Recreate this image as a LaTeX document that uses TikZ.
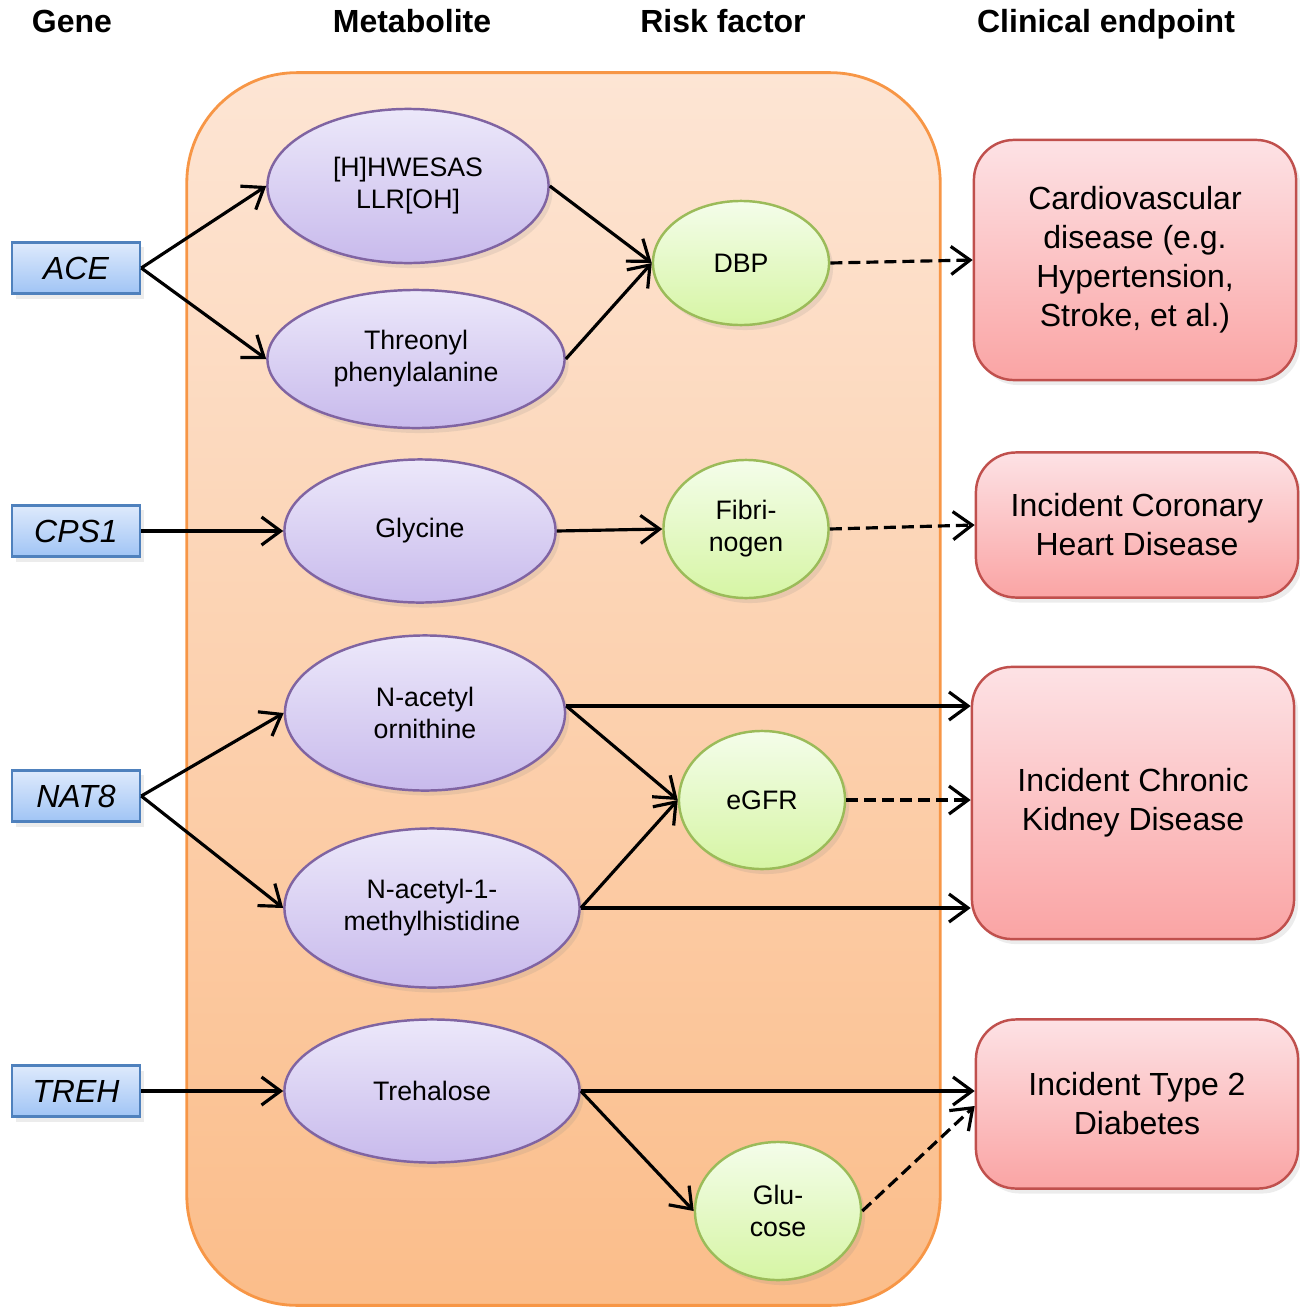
\documentclass[tikz,border=0pt]{standalone}
\usepackage{fontspec}
\setmainfont{Liberation Sans}
\usetikzlibrary{shapes.geometric,arrows.meta,positioning,calc,shadows}

\definecolor{paneltop}{RGB}{253,229,212}
\definecolor{panelbot}{RGB}{251,189,138}
\definecolor{panelline}{RGB}{247,150,70}
\definecolor{genetop}{RGB}{222,234,252}
\definecolor{genebot}{RGB}{160,196,245}
\definecolor{geneline}{RGB}{79,129,189}
\definecolor{metabtop}{RGB}{236,232,250}
\definecolor{metabbot}{RGB}{200,186,236}
\definecolor{metabline}{RGB}{128,100,162}
\definecolor{risktop}{RGB}{244,253,234}
\definecolor{riskbot}{RGB}{214,245,164}
\definecolor{riskline}{RGB}{155,187,89}
\definecolor{endtop}{RGB}{253,226,229}
\definecolor{endbot}{RGB}{250,164,164}
\definecolor{endline}{RGB}{192,80,77}

\begin{document}
\begin{tikzpicture}[
    x=0.01cm, y=-0.01cm,
    % Define styles for different types of blocks
    shade/.style={
        drop shadow={shadow xshift=0.4mm, shadow yshift=-0.5mm, opacity=0.15}
    },
    panel/.style={
        rectangle,
        rounded corners=1.1cm,
        draw=panelline,
        line width=0.8pt,
        top color=paneltop,
        bottom color=panelbot,
        minimum width=7.53cm,
        minimum height=12.32cm
    },
    gene/.style={
        rectangle,
        draw=geneline,
        line width=0.7pt,
        top color=genetop,
        bottom color=genebot,
        shade,
        minimum width=1.28cm,
        minimum height=0.51cm,
        font=\fontsize{9.1}{11}\selectfont\itshape
    },
    metab/.style={
        ellipse,
        draw=metabline,
        line width=0.7pt,
        top color=metabtop,
        bottom color=metabbot,
        shade,
        inner sep=0pt,
        align=center,
        font=\fontsize{7.6}{9.1}\selectfont
    },
    risk/.style={
        ellipse,
        draw=riskline,
        line width=0.7pt,
        top color=risktop,
        bottom color=riskbot,
        shade,
        inner sep=0pt,
        align=center,
        font=\fontsize{7.6}{9.1}\selectfont
    },
    endpoint/.style={
        rectangle,
        rounded corners=0.4cm,
        draw=endline,
        line width=0.7pt,
        top color=endtop,
        bottom color=endbot,
        shade,
        minimum width=3.22cm,
        align=center,
        font=\fontsize{9.1}{11.1}\selectfont
    },
    header/.style={
        anchor=base,
        font=\fontsize{9.1}{11}\selectfont\bfseries
    },
    line/.style={
        draw,
        line width=0.9pt,
        -{Straight Barb[length=1.9mm,width=2.8mm,line width=0.9pt]}
    },
    dline/.style={
        line,
        dash pattern=on 1.2mm off 0.6mm
    }
]
\useasboundingbox (0,0) rectangle (1299,1309);

% Column headers
\node[header] (hgene) at (72,32) {Gene};
\node[header] (hmetab) at (412,32) {Metabolite};
\node[header] (hrisk) at (723,32) {Risk factor};
\node[header] (hend) at (1106,32) {Clinical endpoint};

% Background panel
\node[panel] (panel) at (563.5,689) {};

% Genes
\node[gene] (ace) at (76,268) {ACE};
\node[gene] (cps) at (76,531) {CPS1};
\node[gene] (nat) at (76,796) {NAT8};
\node[gene] (treh) at (76,1091) {TREH};

% Metabolites
\node[metab, minimum width=2.81cm, minimum height=1.54cm] (hw) at (408,186) {[H]HWESAS\\LLR[OH]};
\node[metab, minimum width=2.97cm, minimum height=1.38cm] (thr) at (416,359) {Threonyl\\phenylalanine};
\node[metab, minimum width=2.71cm, minimum height=1.43cm] (gly) at (420,531) {Glycine};
\node[metab, minimum width=2.80cm, minimum height=1.55cm] (orn) at (425,713) {N-acetyl\\ornithine};
\node[metab, minimum width=2.95cm, minimum height=1.59cm] (mhis) at (432,908) {N-acetyl-1-\\methylhistidine};
\node[metab, minimum width=2.95cm, minimum height=1.43cm] (tre) at (432,1091) {Trehalose};

% Risk factors
\node[risk, minimum width=1.76cm, minimum height=1.24cm] (dbp) at (741,263) {DBP};
\node[risk, minimum width=1.65cm, minimum height=1.38cm] (fib) at (746,529) {Fibri-\\nogen};
\node[risk, minimum width=1.66cm, minimum height=1.38cm] (egfr) at (762,800) {eGFR};
\node[risk, minimum width=1.66cm, minimum height=1.38cm] (glu) at (778,1211) {Glu-\\cose};

% Clinical endpoints
\node[endpoint, minimum height=2.40cm] (cvd) at (1135,260) {Cardiovascular\\disease (e.g.\\Hypertension,\\Stroke, et al.)};
\node[endpoint, minimum height=1.45cm] (chd) at (1137,525) {Incident Coronary\\Heart Disease};
\node[endpoint, minimum height=2.72cm] (ckd) at (1133,803) {Incident Chronic\\Kidney Disease};
\node[endpoint, minimum height=1.69cm] (t2d) at (1137,1104) {Incident Type 2\\Diabetes};

% Draw the connections
% ACE
\draw[line] (ace.east) -- (hw.west);
\draw[line] (ace.east) -- (thr.west);
\draw[line] (hw.east) -- (dbp.west);
\draw[line] (thr.east) -- (dbp.west);
\draw[dline] (dbp.east) -- (cvd.west);

% CPS1
\draw[line] (cps.east) -- (gly.west);
\draw[line] (gly.east) -- (fib.west);
\draw[dline] (fib.east) -- (chd.west);

% NAT8
\coordinate (ornout) at ($(orn.east)+(0,-7)$);
\draw[line] (nat.east) -- (orn.west);
\draw[line] (nat.east) -- (mhis.west);
\draw[line] (ornout) -- (ornout -| ckd.west);
\draw[line] (ornout) -- (egfr.west);
\draw[line] (mhis.east) -- (egfr.west);
\draw[line] (mhis.east) -- (mhis.east -| ckd.west);
\draw[dline] (egfr.east) -- (egfr.east -| ckd.west);

% TREH
\draw[line] (treh.east) -- (tre.west);
\draw[line] (tre.east) -- (tre.east -| t2d.west);
\draw[line] (tre.east) -- (glu.west);
\draw[dline] (glu.east) -- ($(t2d.west)+(0,2)$);

\end{tikzpicture}
\end{document}
